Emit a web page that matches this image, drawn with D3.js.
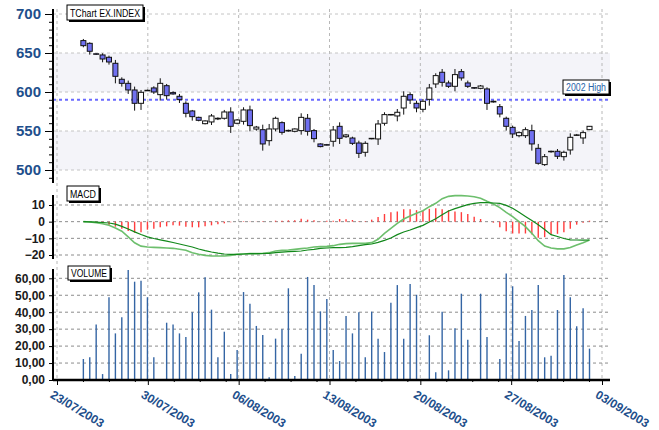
<!DOCTYPE html>
<html>
<head>
<meta charset="utf-8">
<title>TChart EX.INDEX</title>
<script src="https://cdnjs.cloudflare.com/ajax/libs/d3/7.8.5/d3.min.js"></script>
<style>
  body { margin: 0; background: #fff; }
  svg { font-family: "Liberation Sans", Arial, sans-serif; }
</style>
</head>
<body>
<div id="chart"></div>
<script>
// sampling of the index: first point and spacing between points
var firstPoint = new Date(2003, 6, 25, 0, 45);
var stepHours = 11.85;

var open  = [665.9,662.4,649,647.5,644.5,636.8,616.3,611.1,602.6,585.5,602.2,605.2,596.6,608.1,599.2,594.5,585.5,575.7,567.5,559.4,
             561.6,566.3,566.3,574.4,559.9,562.4,577,552.5,551.7,537.6,552.6,560.7,550.8,549.6,550.5,566.3,550.5,533.4,532.5,536.8,
             556,542.7,541,534.6,522.7,540.2,539.8,559.9,570.8,569.3,579.5,596.6,585.5,577.8,590.6,610.3,625.3,611.6,607.3,626.1,
             611.6,605.6,604.7,603.9,588.1,581.2,566.3,554.7,544,544,550.5,527.8,506.9,523.5,524,517.1,525.7,544.5,541.1,551.7];
var high  = [668,663.7,649.5,649.6,646.6,641.1,618.8,614.6,606.9,602.6,603,607.3,617.6,610.3,600.9,597.5,588.1,577,568.4,563.7,
             571.8,567.5,577,580.4,565.4,580.4,582.5,556.5,558.1,559,568.4,562.4,551.7,553.4,572.7,571.8,552.6,534.2,533.4,556.4,
             561.1,546.2,542.7,537.6,536.8,541,564.1,574,571.8,578.2,600.9,599.6,588.9,591.1,610.3,624,629.5,614.6,629.5,629.5,
             614.6,606,609,606,589,584.6,568.4,556.9,549.6,554.7,558.1,533.4,520.5,524.8,526.9,524.8,547,546.2,550.5,556.4];
var low   = [657.3,647.9,647.5,638.1,635.1,611.1,606.9,597.5,576.1,577,601.5,597.5,589,590.2,596.6,585.9,567.5,563.3,562.4,558.5,
             557.7,564,564.6,547.5,558.6,558.2,549.6,550.4,524.8,531.2,549.6,545.3,549.2,548.3,545.3,544,535.5,529.1,531.6,529.9,
             533.4,541.1,532.1,515.4,517.1,539.4,532.1,556.9,570.1,562.4,571,584.6,574,574,582.5,605.2,606.9,605.2,600.9,614.6,
             605.2,603.9,603.5,577,586.4,567.5,550.5,541.1,541.9,541.1,524.8,506.9,505.2,522.2,514.1,512,519.7,543.6,533.4,551.3];
var close = [659.4,652.2,648.5,642.3,638.5,620.1,611.1,602.6,585.5,599.6,602,600,611.1,595.3,597.5,590.2,572.7,568.4,563.7,562.9,
             569.3,565.5,574.4,556,564.1,577,556.9,555,533.4,552.6,566.3,548.3,550,552.6,567.5,549.6,540.2,530,532.1,551.3,
             540.6,544.9,534.2,521.4,534.2,540.6,559,571,571.2,574,594.5,589.8,579.5,588.1,605.2,621,612.4,607.3,622.3,618,
             607.3,605.2,607.7,585.5,587.2,571.8,556,546.2,547.9,551.7,533.4,508.6,517.1,524,517.6,522.7,541.9,545,547.9,556];

var volume = [12.4,13.4,32.8,3.5,48.8,27.5,37,64.9,58,58.6,48.8,13.4,null,33.8,32.8,27.5,25.4,39.9,51.7,60.6,
              41.5,13.4,28.5,3.5,17.7,51.9,45,31.9,26.5,1.6,24.4,29.9,54.1,2.4,15.5,60.8,56,40.5,47.8,17.7,
              11.2,37.8,27.5,39.9,13.4,40.3,24.4,16.5,45.6,56,24.4,56.6,50.3,null,26.4,4.5,40.3,5.7,30.5,50.9,
              23.8,null,50.9,25.4,null,12.4,62.9,55.3,23,37.8,41.3,56,13.4,14.3,41.3,61.9,48.8,31.7,42.3,18.5];

var macdLine = [0,-0.2,-0.6,-1.2,-2.2,-3.8,-5.7,-9.1,-12.7,-14.7,-15.2,-15.4,-15.6,-15.8,-16,-16.6,-17.2,-18.6,-19.6,-20.2,
                -20.6,-20.6,-20.6,-20.2,-19.6,-19.4,-19.2,-19.2,-19,-18.6,-17.6,-17.2,-17,-16.6,-16.2,-15.8,-15.2,-15,-14.8,-14.4,
                -13.6,-13.2,-13,-13,-13,-12.6,-10.6,-7,-4,-1,1.6,3.4,5,6.6,9,11,13.8,15.2,15.6,15.6,
                15.4,15,14,12.2,10.6,8.4,5.6,3,0,-3,-7,-11.4,-14.6,-15.8,-16.3,-16.3,-15.5,-14,-12.6,-11];
var signalLine = [0,-0.1,-0.3,-0.5,-0.8,-1.5,-2.8,-4.4,-6.1,-7.7,-9.1,-10.1,-10.9,-11.7,-12.5,-13.4,-14.3,-15.2,-16.4,-17.4,
                  -18.2,-18.9,-19.4,-19.6,-19.6,-19.4,-19.2,-19.2,-19.1,-19,-18.6,-18.3,-18,-17.8,-17.6,-17,-16.6,-16,-15.8,-15.6,
                  -15.6,-15.4,-15,-14.4,-13.8,-13.4,-12.4,-11.2,-9.8,-7.8,-6.2,-5,-3.6,-2.2,-0.2,1.8,4.2,6.4,7.8,9,
                  10.2,11,11.4,11.4,11.2,11,9.8,8.1,5.6,3.1,0.7,-1.8,-4.7,-7.8,-8.9,-10.1,-10.9,-11,-11.1,-11];
var histogram = [0,0,-0.8,-1.3,-2,-3,-4.2,-5.6,-6.6,-6.4,-4.8,-4.2,-3.4,-2.8,-2.2,-2.4,-3,-3.4,-3.4,-2.8,
                 -2.2,-1.6,-1,-0.4,0,0.3,0.1,0.1,0.2,0,0.6,0.6,0.8,0.8,1.8,1.2,0.8,0.2,0.6,0.6,
                 1.6,1.4,1,0.2,0.2,1.2,2.8,4.6,5.7,6.1,7.5,7.5,6.9,6.5,7.7,8.1,7.5,6.9,6.1,5.7,
                 4.6,3,1.6,0,-0.6,-3.4,-5.7,-7.1,-7.1,-7.1,-7.7,-9.7,-9.3,-7.7,-7.3,-6.3,-4.2,-1.8,-0.6,0.6];

var highLevel = 590;
var highLabel = "2002 High";

var priceTicks = [500, 550, 600, 650, 700];
var macdTicks = [-20, -10, 0, 10];
var volumeTicks = [0, 10, 20, 30, 40, 50, 60];
var firstTickDay = new Date(2003, 6, 23);
var dateTicks = d3.range(7).map(function (k) { return d3.timeDay.offset(firstTickDay, 7 * k); });

var width = 659, height = 430;
var left = 53, right = 610;

var svg = d3.select("#chart").append("svg")
    .attr("width", width)
    .attr("height", height);

var points = open.map(function (o, i) {
  return {
    date: new Date(firstPoint.getTime() + i * stepHours * 3600e3),
    open: o, high: high[i], low: low[i], close: close[i],
    volume: volume[i], macd: macdLine[i], signal: signalLine[i], hist: histogram[i]
  };
});

var x = d3.scaleTime()
    .domain([firstTickDay, dateTicks[6]])
    .range([57, 602]);

// panels
var priceTop = 9, priceBottom = 183;
var macdTop = 195, macdBottom = 259;
var volTop = 269, volBottom = 380;

var yPrice = d3.scaleLinear().domain([500, 700]).range([170, 14]);
var yMacd = d3.scaleLinear().domain([-20, 10]).range([255, 205]);
var yVol = d3.scaleLinear().domain([0, 60]).range([380, 278.3]);

// bands in price panel
svg.selectAll("rect.band")
    .data([[600, 650], [500, 550]])
  .enter().append("rect")
    .attr("class", "band")
    .attr("x", left)
    .attr("width", right - left)
    .attr("y", function (d) { return yPrice(d[1]); })
    .attr("height", function (d) { return yPrice(d[0]) - yPrice(d[1]); })
    .attr("fill", "#f4f4f9");

// vertical grid through every panel
svg.selectAll("line.vgrid")
    .data(dateTicks)
  .enter().append("line")
    .attr("x1", function (d) { return x(d); })
    .attr("x2", function (d) { return x(d); })
    .attr("y1", priceTop)
    .attr("y2", volBottom)
    .attr("stroke", "#b8b8b8")
    .attr("stroke-dasharray", "3,3");

function hGrid(ticks, scale, color) {
  svg.append("g").selectAll("line")
      .data(ticks)
    .enter().append("line")
      .attr("x1", left)
      .attr("x2", right)
      .attr("y1", function (d) { return scale(d); })
      .attr("y2", function (d) { return scale(d); })
      .attr("stroke", color)
      .attr("stroke-dasharray", "3,3");
}
hGrid(priceTicks, yPrice, "#c4c4c4");
hGrid(macdTicks, yMacd, "#8c8c8c");
hGrid(volumeTicks.slice(1), yVol, "#8c8c8c");

// 2002 high level
svg.append("line")
    .attr("x1", left).attr("x2", right)
    .attr("y1", yPrice(highLevel)).attr("y2", yPrice(highLevel))
    .attr("stroke", "#6a6aff")
    .attr("stroke-width", 2)
    .attr("stroke-dasharray", "3,3");

// candles
var candle = svg.append("g").selectAll("g")
    .data(points)
  .enter().append("g");

candle.append("line")
    .attr("x1", function (d) { return x(d.date); })
    .attr("x2", function (d) { return x(d.date); })
    .attr("y1", function (d) { return yPrice(d.high); })
    .attr("y2", function (d) { return yPrice(d.low); })
    .attr("stroke", "#111");

candle.append("rect")
    .attr("x", function (d) { return x(d.date) - 2.5; })
    .attr("width", 5)
    .attr("y", function (d) { return yPrice(Math.max(d.open, d.close)); })
    .attr("height", function (d) { return Math.max(0.5, Math.abs(yPrice(d.open) - yPrice(d.close))); })
    .attr("fill", function (d) { return d.close < d.open ? "#7070f0" : "#fff"; })
    .attr("stroke", "#111");

// MACD histogram and lines
svg.append("g").selectAll("line")
    .data(points.filter(function (d) { return d.hist !== 0; }))
  .enter().append("line")
    .attr("x1", function (d) { return x(d.date); })
    .attr("x2", function (d) { return x(d.date); })
    .attr("y1", yMacd(0))
    .attr("y2", function (d) { return yMacd(d.hist); })
    .attr("stroke", "#ff3c3c")
    .attr("stroke-width", 1.4);

svg.append("path")
    .datum(points)
    .attr("fill", "none")
    .attr("stroke", "#6dbf6d")
    .attr("stroke-width", 1.6)
    .attr("d", d3.line().x(function (d) { return x(d.date); }).y(function (d) { return yMacd(d.macd); }));

svg.append("path")
    .datum(points)
    .attr("fill", "none")
    .attr("stroke", "#11881a")
    .attr("stroke-width", 1.2)
    .attr("d", d3.line().x(function (d) { return x(d.date); }).y(function (d) { return yMacd(d.signal); }));

// volume bars
svg.append("g").selectAll("line")
    .data(points.filter(function (d) { return d.volume !== null; }))
  .enter().append("line")
    .attr("x1", function (d) { return x(d.date); })
    .attr("x2", function (d) { return x(d.date); })
    .attr("y1", yVol(0))
    .attr("y2", function (d) { return yVol(d.volume); })
    .attr("stroke", "#3465a4")
    .attr("stroke-width", 1.4);

// left axes
function leftAxis(scale, ticks, fmt, top, bottom, size, color, fontSize, minor) {
  var g = svg.append("g").attr("transform", "translate(" + left + ",0)");
  if (minor) {
    g.append("g")
        .call(d3.axisLeft(scale).tickValues(minor).tickSize(4).tickFormat(""))
        .call(function (a) { a.select(".domain").remove(); });
  }
  var ax = g.append("g")
      .call(d3.axisLeft(scale).tickValues(ticks).tickSize(size).tickPadding(4).tickFormat(fmt));
  ax.select(".domain").remove();
  ax.selectAll("text")
      .attr("fill", color)
      .style("font-size", fontSize + "px")
      .style("font-weight", "bold");
  g.append("line")
      .attr("x1", 0).attr("x2", 0)
      .attr("y1", top).attr("y2", bottom)
      .attr("stroke", "#000")
      .attr("stroke-width", 2);
}

var priceMinor = d3.range(490, 711, 10).filter(function (v) {
  return v % 50 !== 0 && yPrice(v) > priceTop && yPrice(v) < priceBottom;
});
leftAxis(yPrice, priceTicks, d3.format("d"), priceTop, priceBottom, 8, "#1e4f8c", 15, priceMinor);
leftAxis(yMacd, macdTicks, d3.format("d"), macdTop, macdBottom, 4, "#1a1a1a", 12);
var commaFmt = function (v) { return d3.format(".2f")(v).replace(".", ","); };
leftAxis(yVol, volumeTicks, commaFmt, volTop, volBottom, 4, "#1a1a1a", 12);

// bottom date axis
var xa = svg.append("g")
    .attr("transform", "translate(0," + volBottom + ")");
xa.append("g")
    .call(d3.axisBottom(x).tickValues(d3.timeDay.range(firstTickDay, dateTicks[6]).filter(function (d, i) { return i % 7 !== 0 && i % 7 % 2 === 0; })).tickSize(2).tickFormat(""))
    .call(function (a) { a.select(".domain").remove(); });
xa.append("g")
    .call(d3.axisBottom(x).tickValues(dateTicks).tickSize(5).tickFormat(d3.timeFormat("%d/%m/%Y")))
    .call(function (a) {
      a.select(".domain").remove();
      a.selectAll("text")
          .attr("x", 0).attr("y", 0).attr("dy", 0)
          .attr("transform", "translate(-8,17) rotate(31)")
          .style("text-anchor", "start")
          .style("font-size", "12px")
          .style("font-weight", "bold")
          .attr("fill", "#1e4f8c");
    });
xa.append("line")
    .attr("x1", left).attr("x2", right)
    .attr("y1", 0).attr("y2", 0)
    .attr("stroke", "#000")
    .attr("stroke-width", 2.5);

// titles with shadow
function titleBox(bx, by, w, h, label, color) {
  var g = svg.append("g");
  g.append("rect").attr("x", bx + 2).attr("y", by + 2).attr("width", w).attr("height", h).attr("fill", "#000");
  g.append("rect").attr("x", bx).attr("y", by).attr("width", w).attr("height", h)
      .attr("fill", "#fff").attr("stroke", "#000").attr("stroke-width", 1);
  g.append("text")
      .attr("x", bx + 3)
      .attr("y", by + h - 3.5)
      .attr("fill", color)
      .style("font-size", "10px")
      .attr("textLength", w - 6)
      .attr("lengthAdjust", "spacingAndGlyphs")
      .text(label);
}
titleBox(67, 5, 76, 15, "TChart EX.INDEX", "#000");
titleBox(67, 186, 32, 15, "MACD", "#000");
titleBox(68, 266, 42, 14, "VOLUME", "#000");
titleBox(563, 80, 46, 14, highLabel, "#2a64a8");
</script>
</body>
</html>
